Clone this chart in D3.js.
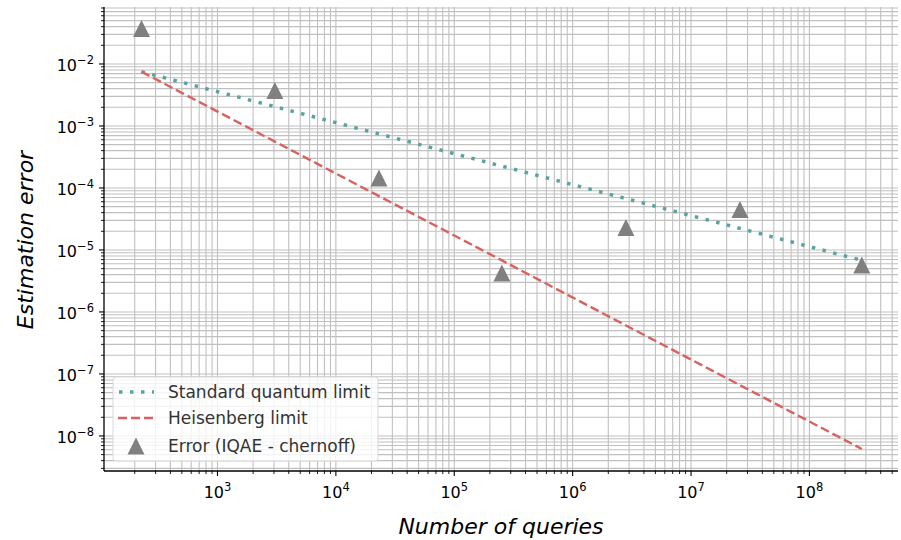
<!DOCTYPE html>
<html>
<head>
<meta charset="utf-8">
<script src="https://cdn.jsdelivr.net/npm/d3@7"></script>
<style>
  html, body { margin: 0; padding: 0; background: #fff; }
  svg { display: block; font-family: "DejaVu Sans", sans-serif; }
</style>
</head>
<body>
<svg id="chart" width="901" height="540"></svg>
<script>
// Number of oracle queries for each run
const queries = [228, 3055, 23100, 252500, 2.82e6, 2.59e7, 2.77e8];
// Measured estimation error (IQAE with Chernoff bound)
const iqaeError = [0.0373, 0.00373, 1.45e-4, 4.25e-6, 2.31e-5, 4.5e-5, 5.73e-6];
// Reference scaling curves evaluated at the same query counts
const sqlError = [7.5e-3, 2.05e-3, 7.45e-4, 2.25e-4, 6.74e-5, 2.23e-5, 6.8e-6];
const heisenbergError = [7.5e-3, 5.6e-4, 7.4e-5, 6.78e-6, 6.06e-7, 6.6e-8, 6.17e-9];

const xTickExps = [3, 4, 5, 6, 7, 8];
const yTickExps = [-2, -3, -4, -5, -6, -7, -8];

const legendLabels = ["Standard quantum limit", "Heisenberg limit", "Error (IQAE - chernoff)"];

const colors = { sql: "#5aa3a3", heis: "#d9625f", marker: "#808080", grid: "#c0c0c0" };

const svg = d3.select("#chart");
const plot = { left: 104, right: 898, top: 7, bottom: 471 };

const x = d3.scaleLog().domain([110, 5.6e8]).range([plot.left, plot.right]);
const y = d3.scaleLog().domain([2.72e-9, 0.083]).range([plot.bottom, plot.top]);

// major (decade) and minor (2..9 x decade) values inside a log domain
function logValues(scale) {
  const [d0, d1] = d3.extent(scale.domain());
  const lo = Math.floor(Math.log10(d0)), hi = Math.ceil(Math.log10(d1));
  const major = [], minor = [];
  for (let e = lo; e <= hi; e++) {
    for (let m = 1; m <= 9; m++) {
      const v = m * Math.pow(10, e);
      if (v < d0 || v > d1) continue;
      (m === 1 ? major : minor).push(v);
    }
  }
  return { major, minor };
}
const xv = logValues(x), yv = logValues(y);

const grid = svg.append("g").attr("stroke", colors.grid).attr("stroke-width", 1.1);
grid.selectAll("line.gx").data(xv.major.concat(xv.minor)).join("line")
  .attr("x1", d => x(d)).attr("x2", d => x(d))
  .attr("y1", plot.top).attr("y2", plot.bottom);
grid.selectAll("line.gy").data(yv.major.concat(yv.minor)).join("line")
  .attr("y1", d => y(d)).attr("y2", d => y(d))
  .attr("x1", plot.left).attr("x2", plot.right);

// Scaling-limit lines
const line = d3.line().x((d, i) => x(queries[i])).y(d => y(d));
const sqlStyle = s => s.attr("stroke", colors.sql).attr("stroke-width", 3.5).attr("stroke-dasharray", "3.5,7.5");
const heisStyle = s => s.attr("stroke", colors.heis).attr("stroke-width", 2.4).attr("stroke-dasharray", "9,4");
svg.append("path").datum(sqlError).attr("d", line).attr("fill", "none").call(sqlStyle);
svg.append("path").datum(heisenbergError).attr("d", line).attr("fill", "none").call(heisStyle);

// Upward triangle marker, as wide as it is tall, centred on its point
const triangleUp = {
  draw(ctx, size) {
    const r = Math.sqrt(size) / 2;
    ctx.moveTo(0, -r);
    ctx.lineTo(r, r);
    ctx.lineTo(-r, r);
    ctx.closePath();
  }
};
const tri = d3.symbol().type(triangleUp).size(17 * 17);
svg.append("g").selectAll("path").data(iqaeError).join("path")
  .attr("d", tri)
  .attr("transform", (d, i) => `translate(${x(queries[i])},${y(d)})`)
  .attr("fill", colors.marker);

// X axis
const xAxis = svg.append("g").attr("transform", `translate(0,${plot.bottom})`);
xAxis.append("line").attr("x1", plot.left).attr("x2", plot.right).attr("stroke", "#000").attr("stroke-width", 1.3);
xAxis.selectAll("line.maj").data(xv.major).join("line")
  .attr("x1", d => x(d)).attr("x2", d => x(d)).attr("y1", 0).attr("y2", 5).attr("stroke", "#000").attr("stroke-width", 1.1);
xAxis.selectAll("line.min").data(xv.minor).join("line")
  .attr("x1", d => x(d)).attr("x2", d => x(d)).attr("y1", 0).attr("y2", 3).attr("stroke", "#000").attr("stroke-width", 0.9);
const xl = xAxis.selectAll("text").data(xTickExps).join("text")
  .attr("x", d => x(Math.pow(10, d))).attr("y", 27)
  .attr("text-anchor", "middle").attr("font-size", 16).attr("fill", "#000");
xl.append("tspan").text("10");
xl.append("tspan").attr("font-size", 11.5).attr("dy", -7).text(d => String(d));

// Y axis
const yAxis = svg.append("g").attr("transform", `translate(${plot.left},0)`);
yAxis.append("line").attr("y1", plot.top).attr("y2", plot.bottom).attr("stroke", "#000").attr("stroke-width", 1.3);
yAxis.selectAll("line.maj").data(yv.major).join("line")
  .attr("y1", d => y(d)).attr("y2", d => y(d)).attr("x1", 0).attr("x2", -5).attr("stroke", "#000").attr("stroke-width", 1.1);
yAxis.selectAll("line.min").data(yv.minor).join("line")
  .attr("y1", d => y(d)).attr("y2", d => y(d)).attr("x1", 0).attr("x2", -3).attr("stroke", "#000").attr("stroke-width", 0.9);
const yl = yAxis.selectAll("text").data(yTickExps).join("text")
  .attr("x", -10).attr("y", d => y(Math.pow(10, d)) + 7.5)
  .attr("text-anchor", "end").attr("font-size", 16).attr("fill", "#000");
yl.append("tspan").text("10");
yl.append("tspan").attr("font-size", 11.5).attr("dy", -7).text(d => "\u2212" + Math.abs(d));

// Axis titles
svg.append("text").attr("x", 501).attr("y", 534)
  .attr("text-anchor", "middle").attr("font-size", 22).attr("font-style", "italic")
  .text("Number of queries");
svg.append("text").attr("transform", "translate(33,240) rotate(-90)")
  .attr("text-anchor", "middle").attr("font-size", 22).attr("font-style", "italic")
  .text("Estimation error");

// Legend
const lg = svg.append("g");
lg.append("rect").attr("x", 113).attr("y", 377).attr("width", 265).attr("height", 84)
  .attr("rx", 3).attr("fill", "#fff").attr("fill-opacity", 0.8)
  .attr("stroke", "#d8d8d8").attr("stroke-width", 1);
const rowsY = [392, 418, 446];
lg.append("line").attr("x1", 119).attr("x2", 154).attr("y1", rowsY[0]).attr("y2", rowsY[0]).call(sqlStyle);
lg.append("line").attr("x1", 118).attr("x2", 154).attr("y1", rowsY[1]).attr("y2", rowsY[1]).call(heisStyle);
lg.append("path").attr("d", tri).attr("transform", `translate(136,${rowsY[2]})`).attr("fill", colors.marker);
lg.selectAll("text").data(legendLabels).join("text")
  .attr("x", 168).attr("y", (d, i) => rowsY[i] + 6)
  .attr("font-size", 17).attr("fill", "#333").text(d => d);
</script>
</body>
</html>
